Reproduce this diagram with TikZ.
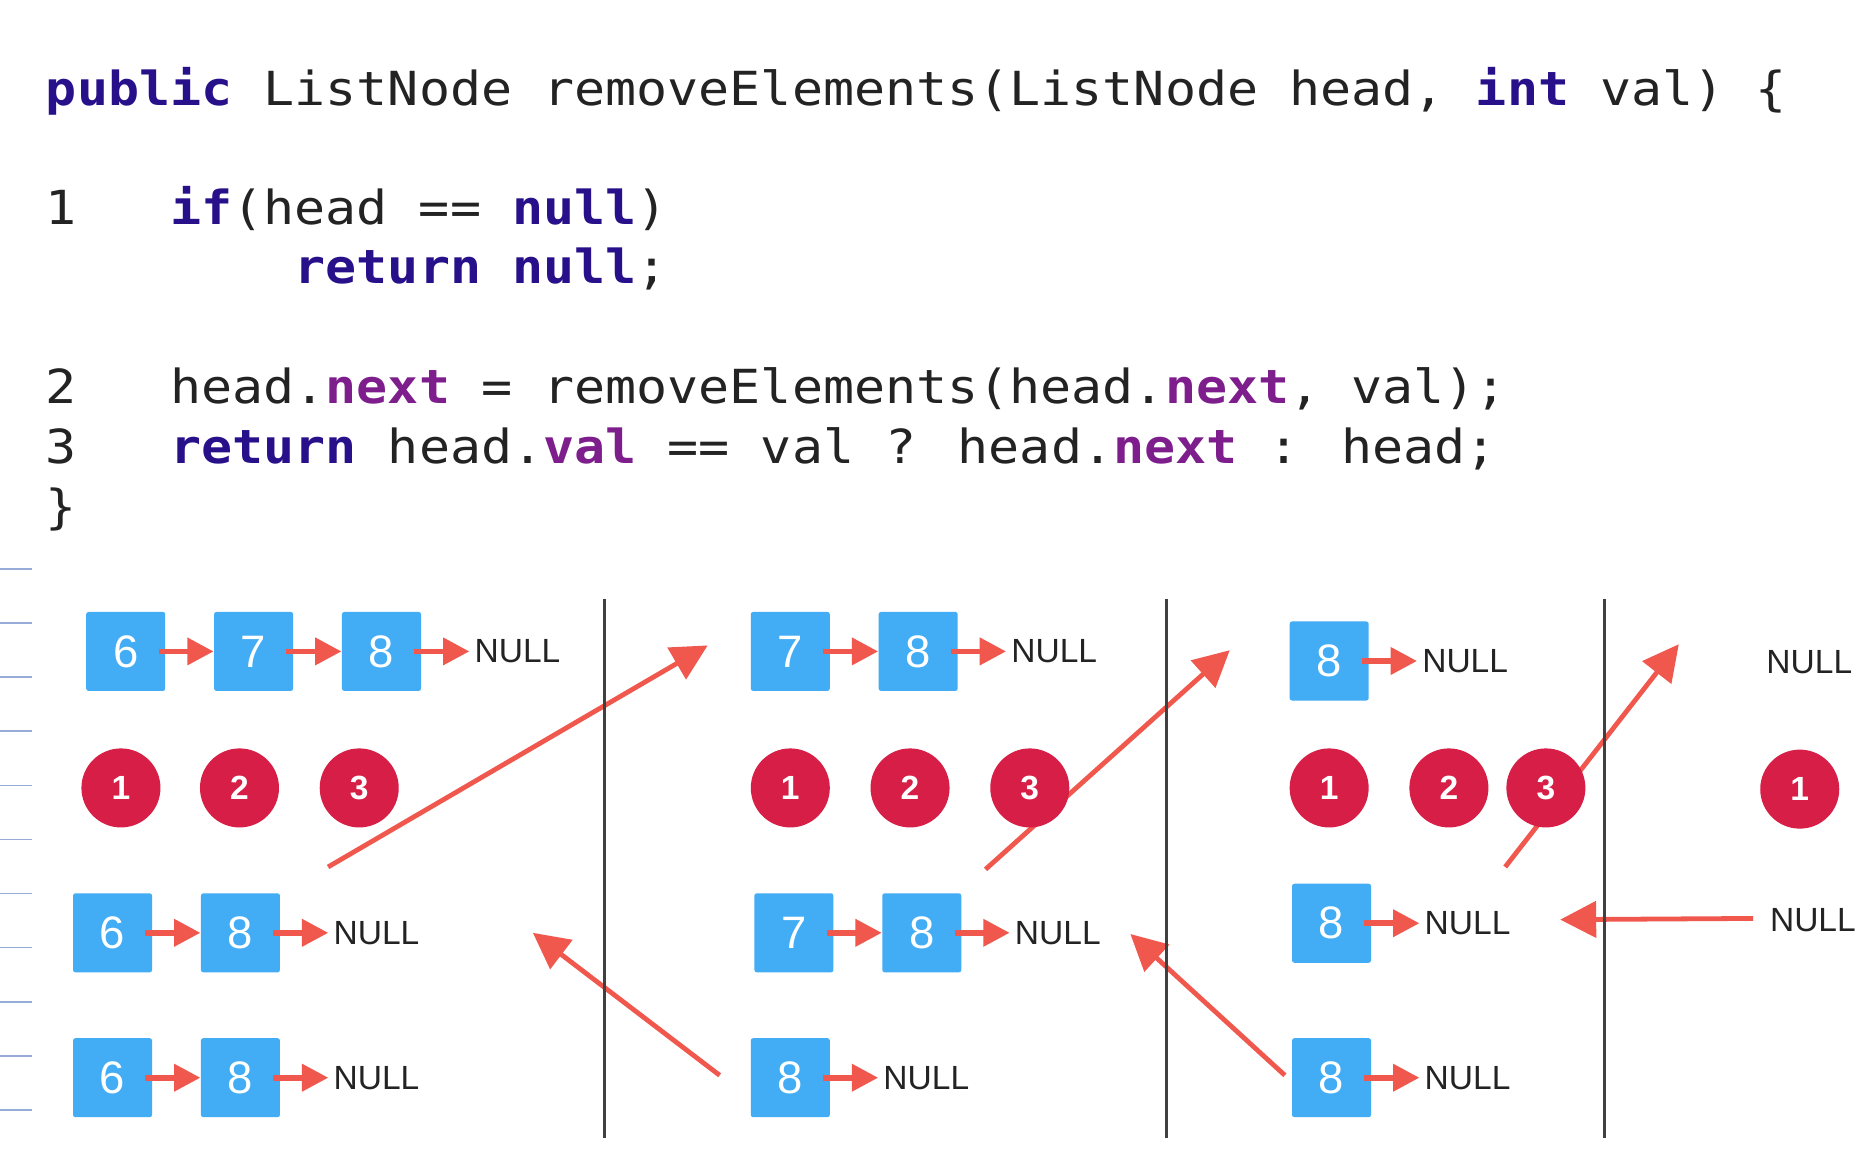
\documentclass[tikz,border=0pt]{standalone}
\usepackage{fontspec}
\setmainfont{Liberation Sans}
\newfontfamily\codefont[FakeStretch=1.1]{DejaVu Sans Mono}
\usepackage{tikz}
\usetikzlibrary{positioning, arrows.meta, backgrounds}
\definecolor{boxblue}{RGB}{66,173,245}
\definecolor{numred}{RGB}{214,30,70}
\definecolor{linkred}{RGB}{240,88,78}
\definecolor{kwblue}{RGB}{40,16,138}
\definecolor{fieldpurple}{RGB}{125,30,140}
\definecolor{codegray}{RGB}{35,35,35}
\definecolor{tickblue}{RGB}{150,172,214}
\newcommand{\kw}[1]{\textbf{\color{kwblue}#1}} % keywords
\newcommand{\fd}[1]{\textbf{\color{fieldpurple}#1}} % fields
\tikzset{
codeline/.style={anchor=base west, inner sep=0pt, text=codegray, font=\codefont\fontsize{19.6}{24}\selectfont}, % one line of the code
listbox/.style={rectangle, fill=boxblue, text=white, minimum size=33pt, inner sep=0pt, rounded corners=1pt, font=\fontsize{19}{19}\selectfont}, % a list node
nullnode/.style={inner sep=2pt, text=codegray, font=\fontsize{14}{14}\selectfont}, % the NULL at the end
callnum/.style={circle, fill=numred, text=white, minimum size=33pt, inner sep=0pt, font=\bfseries\fontsize{14}{14}\selectfont}, % line number of the call
link/.style={draw=linkred, line width=2.4pt, shorten <=-3pt, -{Triangle[length=11pt, width=11pt]}}, % next pointer
back/.style={draw=linkred, line width=2pt, -{Triangle[length=15pt, width=15pt]}}, % hand drawn arrows
divider/.style={draw=black!75, line width=1.3pt},
tick/.style={draw=tickblue, line width=0.6pt},
}
\begin{document}
\begin{tikzpicture}[x=0.5pt, y=-0.5pt]
    \useasboundingbox (0,0) rectangle (1560,960);

    % code
    \node[codeline] (code0) at (38,88) {\kw{public} ListNode removeElements(ListNode head, \kw{int} val) \{};
    \node[codeline] (code1) at (38,187.5) {1~~~\kw{if}(head == \kw{null})};
    \node[codeline] (code2) at (38,237) {~~~~~~~~\kw{return} \kw{null};};
    \node[codeline] (code3) at (38,337) {2~~~head.\fd{next} = removeElements(head.\fd{next}, val);};
    \node[codeline] (code4) at (38,387) {3~~~\kw{return} head.\fd{val} == val ? head.\fd{next} : head;};
    \node[codeline] (code5) at (38,437) {\}};

    % ruler on the left
    \foreach \k in {0,...,10}
        \draw[tick] (0,475+45.2*\k) -- (27,475+45.2*\k);

    % dividers
    \draw[divider] (505,500) -- (505,950);
    \draw[divider] (974,500) -- (974,950);
    \draw[divider] (1340,500) -- (1340,950);

    % first call
    \node[listbox] (a1) at (105,544) {6};
    \node[listbox, right=20pt of a1] (a2) {7};
    \node[listbox, right=20pt of a2] (a3) {8};
    \node[nullnode, right=20pt of a3] (a4) {NULL};
    \node[callnum] (c1) at (101,658) {1};
    \node[callnum] (c2) at (200,658) {2};
    \node[callnum] (c3) at (300,658) {3};
    \node[listbox] (b1) at (94,779) {6};
    \node[listbox, right=20pt of b1] (b2) {8};
    \node[nullnode, right=20pt of b2] (b3) {NULL};
    \node[listbox] (d1) at (94,900) {6};
    \node[listbox, right=20pt of d1] (d2) {8};
    \node[nullnode, right=20pt of d2] (d3) {NULL};

    % second call
    \node[listbox] (e1) at (660,544) {7};
    \node[listbox, right=20pt of e1] (e2) {8};
    \node[nullnode, right=20pt of e2] (e3) {NULL};
    \node[callnum] (f1) at (660,658) {1};
    \node[callnum] (f2) at (760,658) {2};
    \node[callnum] (f3) at (860,658) {3};
    \node[listbox] (g1) at (663,779) {7};
    \node[listbox, right=20pt of g1] (g2) {8};
    \node[nullnode, right=20pt of g2] (g3) {NULL};
    \node[listbox] (k1) at (660,900) {8};
    \node[nullnode, right=20pt of k1] (k2) {NULL};

    % third call
    \node[listbox] (m1) at (1110,552) {8};
    \node[nullnode, right=20pt of m1] (m2) {NULL};
    \node[callnum] (n1) at (1110,658) {1};
    \node[callnum] (n2) at (1210,658) {2};
    \node[callnum] (n3) at (1291,658) {3};
    \node[listbox] (r1) at (1112,771) {8};
    \node[nullnode, right=20pt of r1] (r2) {NULL};
    \node[listbox] (s1) at (1112,900) {8};
    \node[nullnode, right=20pt of s1] (s2) {NULL};

    % fourth call
    \node[nullnode] (u1) at (1511,553) {NULL};
    \node[callnum] (v1) at (1503,659) {1};
    \node[nullnode] (w1) at (1514,768) {NULL};

    \foreach \s/\t in {a1/a2, a2/a3, a3/a4, b1/b2, b2/b3, d1/d2, d2/d3, e1/e2, e2/e3, g1/g2, g2/g3, k1/k2, m1/m2, r1/r2, s1/s2}
        \draw[link] (\s.east) -- (\t.west);

    % hand drawn arrows, behind the circles
    \coordinate (h1s) at (274,724);
    \coordinate (h1e) at (591,539);
    \coordinate (h2s) at (601,898);
    \coordinate (h2e) at (445,779);
    \coordinate (h3s) at (823,726);
    \coordinate (h3e) at (1027,543);
    \coordinate (h4s) at (1073,898);
    \coordinate (h4e) at (944,780);
    \coordinate (h5s) at (1257,724);
    \coordinate (h5e) at (1402,538);
    \coordinate (h6s) at (1464,767);
    \coordinate (h6e) at (1303,768);
    \begin{pgfonlayer}{background}
        \fill[white] (0,0) rectangle (1560,960);
        \foreach \i in {1,...,6}
            \draw[back] (h\i s) -- (h\i e);
    \end{pgfonlayer}
\end{tikzpicture}
\end{document}
